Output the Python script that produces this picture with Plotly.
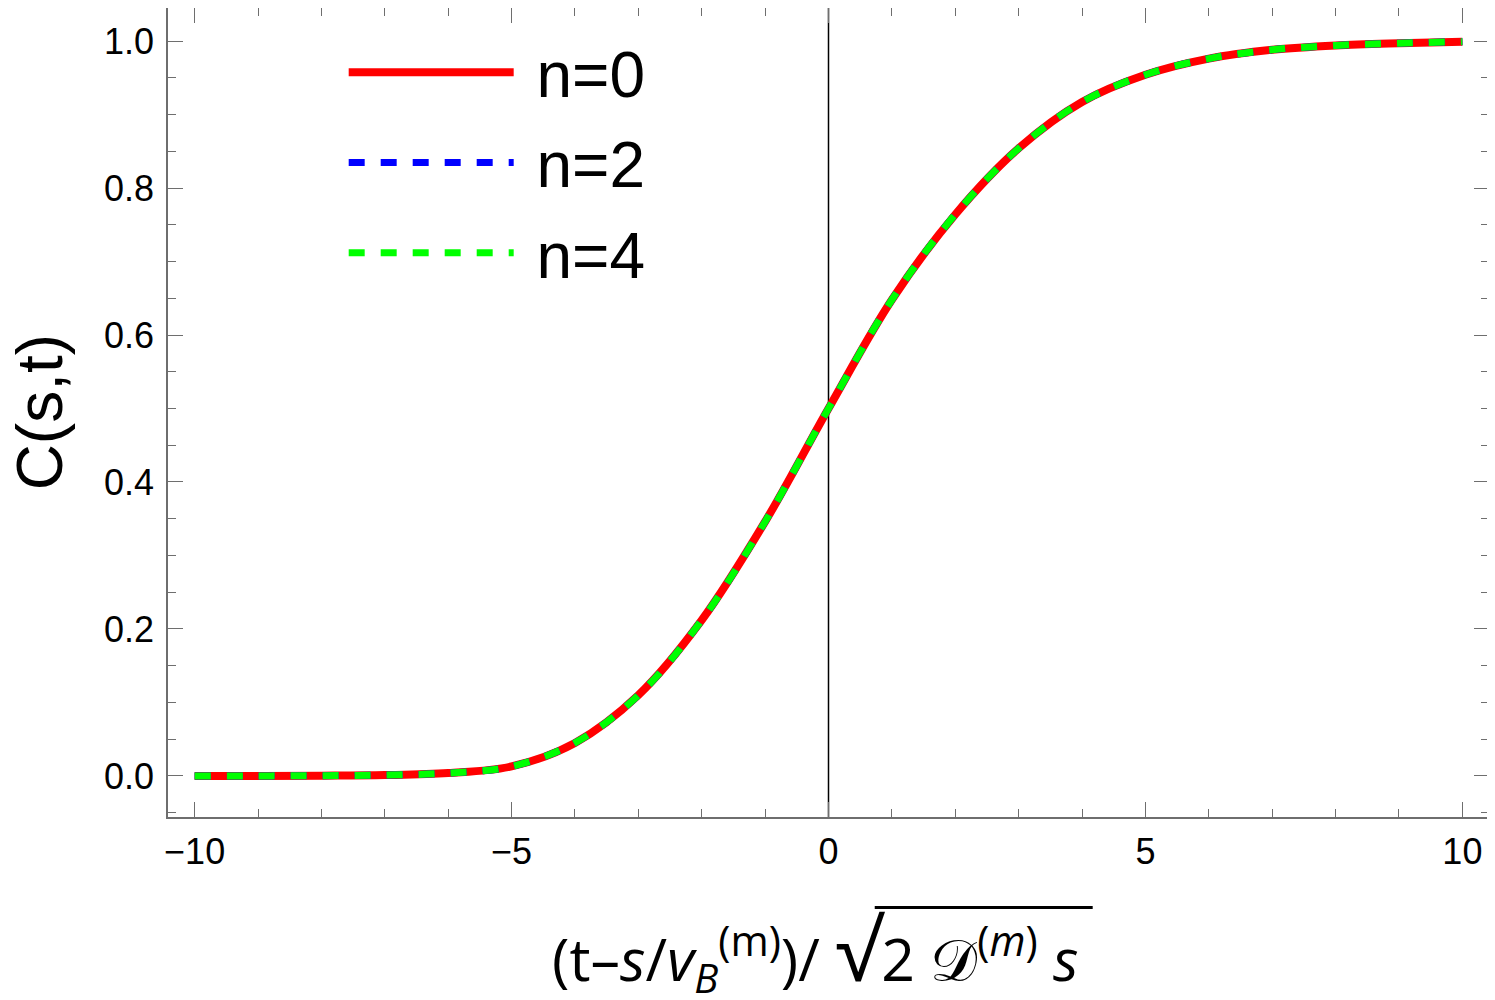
import plotly.graph_objects as go

# values
x_vals = [-10, -9, -8, -7, -6, -5, -4, -3, -2, -1, 0,
          1, 2, 3, 4, 5, 6, 7, 8, 9, 10]
c_n0 = [0.0, 0.0001, 0.0004, 0.0012, 0.004, 0.013, 0.045, 0.11, 0.212, 0.346, 0.5,
        0.648, 0.764, 0.854, 0.917, 0.954, 0.976, 0.988, 0.994, 0.997, 0.999]
c_n2 = [0.0, 0.0001, 0.0004, 0.0012, 0.004, 0.013, 0.045, 0.11, 0.212, 0.346, 0.5,
        0.648, 0.764, 0.854, 0.917, 0.954, 0.976, 0.988, 0.994, 0.997, 0.999]
c_n4 = [0.0, 0.0001, 0.0004, 0.0012, 0.004, 0.013, 0.045, 0.11, 0.212, 0.346, 0.5,
        0.648, 0.764, 0.854, 0.917, 0.954, 0.976, 0.988, 0.994, 0.997, 0.999]
names = ["n=0", "n=2", "n=4"]

frame_col = "#6e6e6e"
tick_font = dict(family="Liberation Sans, Arial", size=36, color="black")

fig = go.Figure()

fig.add_trace(
    go.Scatter(
        x=x_vals, y=c_n0, name="\u00a0" + names[0], mode="lines",
        legendgroup="a",
        line=dict(color="#ff0000", width=8, shape="spline")
    )
)
fig.add_trace(
    go.Scatter(
        x=x_vals, y=c_n2, name="\u00a0" + names[1], mode="lines",
        legendgroup="b",
        line=dict(color="#0000ff", width=7, shape="spline", dash="16px,16px")
    )
)
fig.add_trace(
    go.Scatter(
        x=x_vals, y=c_n4, name="\u00a0" + names[2], mode="lines",
        legendgroup="c",
        line=dict(color="#00ff00", width=7, shape="spline", dash="16px,16px")
    )
)

# vertical axis line at x = 0
fig.add_vline(x=0, line=dict(color="black", width=1.5), layer="below")

x_title = (
    "(t\u2013<i>s</i>/<i>v</i><sub><span style='font-size:40px'><i>B</i></span></sub>"
    "<sup>(m)</sup>)/ "
    "<span style='font-size:84px'>\u221A</span>2 \U0001D49F<sup>(<i>m</i>)</sup> <i>s</i>"
)

fig.add_annotation(
    text=x_title,
    xref="paper", yref="paper",
    x=0.49, y=-0.163,
    xanchor="center", yanchor="middle",
    showarrow=False,
    font=dict(family="Open Sans, Liberation Sans", size=59, color="black")
)

# bar over the square root
fig.add_shape(
    type="line",
    xref="paper", yref="paper",
    x0=0.535, x1=0.70, y0=-0.112, y1=-0.112,
    line=dict(color="black", width=3)
)

fig.add_annotation(
    text="C(s,t)",
    xref="paper", yref="paper",
    x=-0.097, y=0.5,
    xanchor="center", yanchor="middle",
    textangle=-90,
    showarrow=False,
    font=dict(family="Liberation Sans, Arial", size=64, color="black")
)

fig.update_layout(
    width=1487,
    height=992,
    plot_bgcolor="white",
    paper_bgcolor="white",
    margin=dict(l=160, r=6, t=0, b=183, autoexpand=False),
    showlegend=True,
    legend=dict(
        x=0.133,
        y=0.98,
        xanchor="left",
        yanchor="top",
        bgcolor="rgba(0,0,0,0)",
        font=dict(family="Liberation Sans, Arial", size=64, color="black"),
        itemwidth=165,
        tracegroupgap=4
    ),
    xaxis=dict(
        range=[-10.42, 10.42],
        dtick=5,
        tick0=0,
        ticks="inside",
        ticklen=15,
        tickwidth=1,
        tickcolor=frame_col,
        minor=dict(dtick=1, ticks="inside", ticklen=8, tickcolor=frame_col),
        showline=True,
        linecolor=frame_col,
        linewidth=1.5,
        mirror="allticks",
        showgrid=False,
        zeroline=False,
        tickfont=tick_font,
        ticklabelstandoff=2
    ),
    yaxis=dict(
        range=[-0.0558, 1.0449],
        dtick=0.2,
        tick0=0,
        tickformat=".1f",
        ticks="inside",
        ticklen=15,
        tickwidth=1,
        tickcolor=frame_col,
        minor=dict(dtick=0.05, ticks="inside", ticklen=8, tickcolor=frame_col),
        showline=True,
        linecolor=frame_col,
        linewidth=1.5,
        mirror="allticks",
        showgrid=False,
        zeroline=False,
        tickfont=tick_font,
        ticklabelstandoff=5
    )
)

fig.write_html("out.html")
